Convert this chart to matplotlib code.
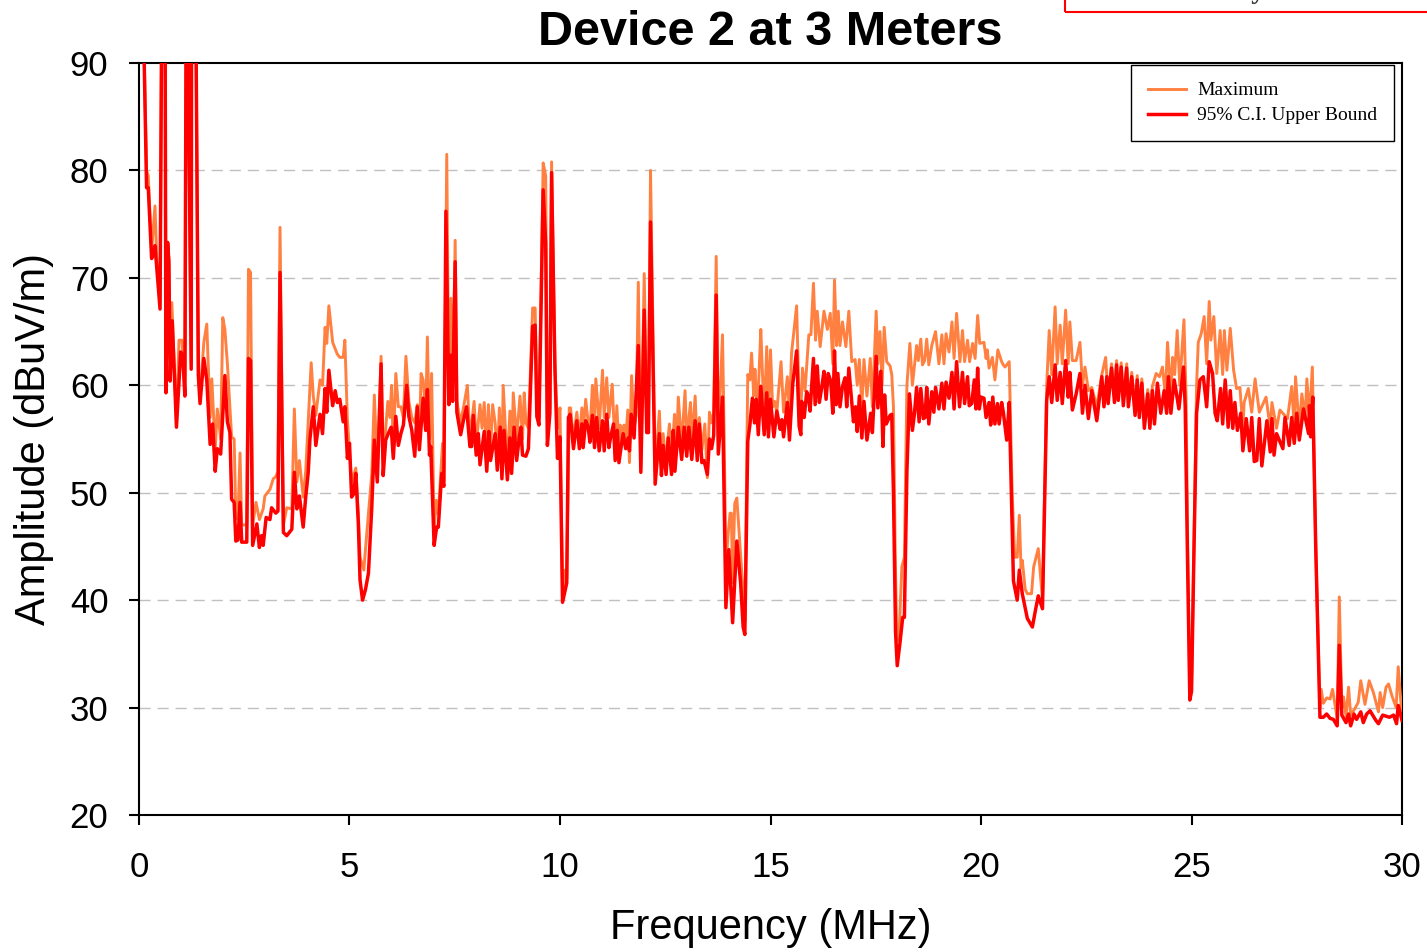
import numpy as np
import matplotlib.pyplot as plt
import matplotlib.patches as patches

# 95% C.I. upper bound (MHz, dBuV/m)
freq_ci = [
    0.10, 0.18, 0.22, 0.30, 0.34, 0.38, 0.50, 0.54, 0.62, 0.64,
    0.68, 0.71, 0.74, 0.79, 0.89, 0.99, 1.04, 1.09, 1.12, 1.16,
    1.24, 1.25, 1.35, 1.41, 1.45, 1.54, 1.61, 1.69, 1.75, 1.81,
    1.86, 1.94, 2.04, 2.10, 2.16, 2.20, 2.26, 2.30, 2.35, 2.40,
    2.44, 2.56, 2.60, 2.65, 2.70, 2.80, 2.86, 2.91, 2.95, 3.02,
    3.11, 3.15, 3.25, 3.30, 3.35, 3.43, 3.51, 3.63, 3.69, 3.75,
    3.81, 3.90, 3.96, 4.02, 4.06, 4.14, 4.20, 4.30, 4.36, 4.42,
    4.46, 4.51, 4.60, 4.66, 4.71, 4.77, 4.85, 4.89, 4.95, 5.00,
    5.05, 5.10, 5.15, 5.21, 5.25, 5.31, 5.38, 5.45, 5.53, 5.59,
    5.66, 5.75, 5.80, 5.86, 5.92, 5.99, 6.04, 6.10, 6.16, 6.22,
    6.28, 6.36, 6.41, 6.48, 6.55, 6.61, 6.66, 6.75, 6.81, 6.85,
    6.90, 6.93, 7.01, 7.07, 7.11, 7.19, 7.24, 7.29, 7.36, 7.41,
    7.45, 7.51, 7.55, 7.64, 7.71, 7.78, 7.86, 7.90, 7.94, 8.01,
    8.06, 8.10, 8.20, 8.26, 8.31, 8.35, 8.46, 8.51, 8.58, 8.62,
    8.67, 8.75, 8.81, 8.85, 8.91, 8.97, 9.03, 9.07, 9.11, 9.19,
    9.25, 9.35, 9.41, 9.45, 9.50, 9.60, 9.66, 9.70, 9.76, 9.80,
    9.88, 9.94, 10.00, 10.06, 10.16, 10.20, 10.24, 10.32, 10.40, 10.46,
    10.52, 10.55, 10.61, 10.67, 10.71, 10.77, 10.82, 10.87, 10.93, 11.01,
    11.05, 11.11, 11.16, 11.20, 11.27, 11.31, 11.36, 11.40, 11.46, 11.50,
    11.56, 11.62, 11.65, 11.69, 11.76, 11.86, 11.92, 12.00, 12.06, 12.10,
    12.15, 12.26, 12.36, 12.41, 12.45, 12.52, 12.57, 12.65, 12.69, 12.73,
    12.81, 12.89, 12.95, 13.01, 13.06, 13.13, 13.21, 13.26, 13.31, 13.37,
    13.42, 13.50, 13.55, 13.60, 13.65, 13.71, 13.76, 13.86, 13.94, 14.01,
    14.10, 14.20, 14.29, 14.35, 14.39, 14.46, 14.51, 14.57, 14.62, 14.66,
    14.71, 14.77, 14.85, 14.91, 14.95, 15.00, 15.08, 15.15, 15.23, 15.27,
    15.31, 15.40, 15.45, 15.53, 15.62, 15.68, 15.72, 15.74, 15.80, 15.86,
    15.90, 15.94, 16.02, 16.06, 16.11, 16.16, 16.22, 16.27, 16.32, 16.37,
    16.43, 16.48, 16.52, 16.56, 16.60, 16.65, 16.71, 16.77, 16.81, 16.86,
    16.93, 16.97, 17.02, 17.06, 17.11, 17.17, 17.22, 17.29, 17.38, 17.42,
    17.51, 17.55, 17.62, 17.67, 17.71, 17.75, 17.84, 17.88, 17.92, 17.97,
    18.01, 18.08, 18.14, 18.18, 18.24, 18.30, 18.37, 18.42, 18.47, 18.53,
    18.57, 18.63, 18.67, 18.71, 18.76, 18.83, 18.88, 18.92, 19.00, 19.07,
    19.12, 19.17, 19.24, 19.31, 19.36, 19.42, 19.49, 19.56, 19.61, 19.68,
    19.72, 19.78, 19.84, 19.88, 19.92, 19.96, 20.00, 20.07, 20.12, 20.19,
    20.23, 20.28, 20.33, 20.39, 20.43, 20.49, 20.53, 20.61, 20.67, 20.77,
    20.86, 20.91, 20.98, 21.10, 21.22, 21.29, 21.36, 21.46, 21.56, 21.62,
    21.68, 21.76, 21.81, 21.88, 21.93, 22.01, 22.07, 22.11, 22.17, 22.26,
    22.35, 22.41, 22.47, 22.55, 22.63, 22.75, 22.87, 22.92, 22.99, 23.02,
    23.10, 23.17, 23.22, 23.26, 23.33, 23.38, 23.46, 23.50, 23.58, 23.66,
    23.71, 23.76, 23.82, 23.88, 23.96, 24.01, 24.07, 24.12, 24.19, 24.27,
    24.35, 24.41, 24.45, 24.51, 24.59, 24.70, 24.81, 24.85, 24.90, 24.96,
    25.00, 25.06, 25.12, 25.20, 25.28, 25.36, 25.42, 25.50, 25.56, 25.61,
    25.69, 25.74, 25.80, 25.87, 25.92, 25.98, 26.03, 26.09, 26.17, 26.22,
    26.30, 26.38, 26.43, 26.49, 26.55, 26.61, 26.67, 26.79, 26.87, 26.91,
    26.96, 27.02, 27.17, 27.22, 27.32, 27.38, 27.44, 27.50, 27.56, 27.66,
    27.78, 27.80, 27.83, 27.88, 27.95, 28.05, 28.13, 28.21, 28.29, 28.37,
    28.46, 28.51, 28.57, 28.67, 28.73, 28.78, 28.86, 28.92, 29.02, 29.08,
    29.16, 29.24, 29.38, 29.44, 29.54, 29.70, 29.80, 29.87, 29.91, 30.00,
]
amp_ci = [
    95, 78.4, 78.4, 71.8, 72.2, 73.0, 67.1, 95, 95, 59.3,
    73.3, 71.5, 60.4, 66.0, 56.1, 63.1, 62.8, 59.0, 95, 95,
    61.5, 95, 95, 60.9, 58.3, 62.5, 60.5, 54.5, 56.4, 52.0,
    54.1, 53.6, 60.9, 56.6, 55.6, 49.4, 49.1, 45.5, 45.6, 49.1,
    45.4, 45.4, 62.5, 62.3, 45.1, 47.1, 44.9, 46.0, 45.1, 47.7,
    47.5, 48.6, 48.1, 48.3, 70.5, 46.3, 46.0, 46.6, 51.9, 48.5,
    49.7, 46.8, 49.6, 51.9, 55.0, 58.0, 54.4, 57.3, 55.5, 59.7,
    57.5, 61.4, 58.1, 59.5, 58.4, 58.7, 56.6, 58.0, 53.2, 54.6,
    49.6, 49.9, 51.8, 47.1, 41.9, 40.0, 41.0, 42.5, 48.7, 54.9,
    51.0, 62.0, 51.6, 54.9, 55.5, 56.1, 53.2, 57.1, 54.4, 55.5,
    56.3, 60.0, 57.1, 55.8, 53.4, 58.0, 54.0, 58.8, 55.8, 59.6,
    53.5, 54.3, 45.1, 46.8, 46.8, 51.8, 50.6, 76.2, 58.2, 62.8,
    58.5, 71.5, 57.5, 55.4, 56.8, 58.0, 54.3, 54.3, 57.2, 53.5,
    55.5, 52.6, 55.7, 52.0, 55.7, 53.0, 55.5, 52.1, 56.1, 51.3,
    55.8, 51.2, 55.1, 51.8, 56.1, 53.0, 55.1, 56.1, 53.5, 53.4,
    54.1, 65.5, 65.6, 57.1, 56.3, 78.2, 73.2, 54.4, 57.4, 79.8,
    61.4, 53.2, 55.2, 39.8, 41.6, 57.0, 57.3, 54.1, 56.7, 54.1,
    56.4, 54.2, 56.7, 56.1, 54.7, 57.2, 54.2, 57.0, 53.9, 56.7,
    53.9, 57.3, 54.2, 55.1, 56.4, 53.0, 55.8, 52.8, 54.5, 55.5,
    54.1, 55.1, 53.9, 57.3, 55.1, 63.7, 51.9, 67.0, 55.6, 55.6,
    75.2, 50.8, 55.5, 51.6, 54.4, 51.7, 55.1, 51.7, 55.8, 52.0,
    56.1, 53.1, 56.1, 53.4, 56.1, 53.1, 56.7, 53.0, 56.4, 52.8,
    53.0, 51.7, 55.0, 54.1, 55.3, 68.4, 53.6, 58.9, 39.3, 44.7,
    37.9, 45.5, 41.6, 37.5, 36.8, 54.8, 56.3, 58.8, 56.5, 58.7,
    55.4, 59.9, 55.4, 59.3, 55.2, 58.7, 55.2, 57.6, 55.9, 56.8,
    55.2, 58.4, 54.9, 60.2, 63.2, 56.2, 55.4, 58.5, 57.0, 59.4,
    59.0, 57.6, 62.5, 58.2, 61.8, 58.4, 59.9, 61.3, 58.7, 61.1,
    60.4, 57.4, 63.2, 58.2, 61.1, 58.0, 59.9, 60.7, 58.0, 61.6,
    58.4, 56.6, 58.0, 55.7, 59.0, 55.1, 58.5, 54.9, 57.4, 55.6,
    62.7, 57.9, 61.3, 54.3, 59.1, 56.4, 57.2, 57.3, 50.0, 37.0,
    33.9, 36.2, 38.4, 38.4, 52.0, 59.2, 55.8, 57.4, 59.8, 56.6,
    59.7, 56.9, 57.0, 59.8, 56.4, 59.4, 57.5, 59.8, 57.8, 60.2,
    57.8, 60.3, 58.8, 61.2, 57.8, 62.2, 58.0, 61.2, 58.3, 60.8,
    58.1, 58.3, 60.5, 57.8, 61.6, 57.8, 58.9, 58.8, 57.0, 58.4,
    56.3, 58.9, 56.4, 58.3, 56.4, 58.4, 57.5, 54.9, 58.4, 41.8,
    40.0, 42.8, 40.6, 38.3, 37.5, 39.0, 40.4, 39.2, 58.6, 60.8,
    58.4, 61.9, 58.6, 61.2, 58.3, 62.3, 58.9, 61.2, 57.7, 59.2,
    61.1, 57.4, 60.0, 56.9, 59.5, 56.7, 60.8, 58.0, 60.8, 58.3,
    61.6, 58.4, 61.9, 58.6, 61.7, 58.1, 61.6, 58.0, 60.8, 57.2,
    60.5, 57.0, 60.2, 56.0, 59.2, 56.0, 59.5, 56.4, 60.2, 57.4,
    59.5, 57.4, 60.8, 57.4, 60.5, 57.8, 61.7, 58.0, 45.0, 30.7,
    31.5, 45.0, 57.4, 60.5, 60.8, 58.0, 62.2, 61.1, 57.4, 56.7,
    59.7, 56.4, 60.5, 56.1, 59.5, 56.0, 58.4, 55.8, 57.4, 53.9,
    56.9, 53.9, 57.0, 52.9, 53.0, 56.9, 52.5, 56.7, 53.8, 56.9,
    53.5, 55.5, 54.1, 57.0, 54.4, 57.0, 54.6, 57.4, 54.9, 57.8,
    55.5, 58.1, 55.2, 58.9, 45.0, 29.1, 29.1, 29.4, 29.0, 28.9,
    28.3, 35.8, 29.3, 28.6, 29.4, 28.3, 29.4, 28.9, 29.6, 28.6,
    29.4, 29.7, 28.8, 28.5, 29.3, 29.1, 29.3, 28.5, 30.2, 28.8,
]

# Maximum
freq_max = [
    0.10, 0.18, 0.22, 0.30, 0.38, 0.42, 0.50, 0.54, 0.62, 0.64,
    0.67, 0.71, 0.74, 0.78, 0.89, 0.95, 1.02, 1.09, 1.12, 1.16,
    1.24, 1.25, 1.35, 1.41, 1.45, 1.54, 1.61, 1.69, 1.73, 1.78,
    1.81, 1.86, 1.94, 1.99, 2.04, 2.10, 2.16, 2.20, 2.26, 2.30,
    2.35, 2.40, 2.44, 2.56, 2.60, 2.65, 2.70, 2.78, 2.86, 2.95,
    2.99, 3.11, 3.19, 3.25, 3.30, 3.35, 3.43, 3.51, 3.63, 3.69,
    3.75, 3.81, 3.90, 3.96, 4.02, 4.09, 4.14, 4.20, 4.30, 4.36,
    4.42, 4.46, 4.51, 4.60, 4.71, 4.77, 4.85, 4.89, 4.95, 5.05,
    5.15, 5.21, 5.25, 5.34, 5.41, 5.53, 5.59, 5.66, 5.75, 5.80,
    5.91, 5.96, 6.00, 6.04, 6.10, 6.16, 6.22, 6.28, 6.34, 6.41,
    6.48, 6.55, 6.61, 6.66, 6.70, 6.75, 6.81, 6.85, 6.90, 6.95,
    7.01, 7.06, 7.11, 7.21, 7.24, 7.31, 7.36, 7.41, 7.45, 7.51,
    7.55, 7.64, 7.71, 7.80, 7.86, 7.96, 8.01, 8.06, 8.10, 8.15,
    8.20, 8.26, 8.30, 8.35, 8.40, 8.46, 8.51, 8.56, 8.62, 8.65,
    8.75, 8.81, 8.85, 8.89, 8.97, 9.05, 9.11, 9.15, 9.19, 9.25,
    9.35, 9.41, 9.45, 9.50, 9.60, 9.66, 9.70, 9.76, 9.80, 9.88,
    9.94, 10.00, 10.06, 10.12, 10.16, 10.22, 10.25, 10.32, 10.40, 10.46,
    10.52, 10.55, 10.61, 10.67, 10.71, 10.77, 10.82, 10.85, 10.91, 10.93,
    11.01, 11.05, 11.11, 11.16, 11.19, 11.24, 11.27, 11.31, 11.35, 11.40,
    11.43, 11.46, 11.52, 11.56, 11.61, 11.65, 11.70, 11.76, 11.81, 11.86,
    11.92, 12.00, 12.06, 12.10, 12.15, 12.26, 12.36, 12.41, 12.45, 12.52,
    12.55, 12.60, 12.65, 12.72, 12.76, 12.81, 12.89, 12.97, 13.01, 13.10,
    13.13, 13.21, 13.26, 13.31, 13.37, 13.44, 13.50, 13.55, 13.60, 13.65,
    13.71, 13.76, 13.86, 13.90, 13.94, 13.99, 14.04, 14.07, 14.10, 14.15,
    14.20, 14.26, 14.35, 14.39, 14.46, 14.51, 14.55, 14.60, 14.63, 14.69,
    14.77, 14.80, 14.85, 14.91, 14.95, 15.00, 15.05, 15.10, 15.15, 15.25,
    15.31, 15.35, 15.40, 15.45, 15.50, 15.62, 15.68, 15.72, 15.76, 15.82,
    15.91, 15.96, 16.02, 16.07, 16.11, 16.18, 16.27, 16.35, 16.42, 16.48,
    16.52, 16.57, 16.61, 16.65, 16.71, 16.79, 16.86, 16.93, 17.01, 17.06,
    17.11, 17.17, 17.22, 17.29, 17.37, 17.42, 17.51, 17.55, 17.60, 17.65,
    17.70, 17.76, 17.84, 17.88, 17.92, 17.96, 18.00, 18.05, 18.12, 18.18,
    18.24, 18.31, 18.37, 18.47, 18.51, 18.57, 18.61, 18.66, 18.71, 18.76,
    18.83, 18.92, 19.00, 19.07, 19.12, 19.17, 19.24, 19.31, 19.36, 19.42,
    19.50, 19.56, 19.61, 19.68, 19.73, 19.80, 19.86, 19.92, 19.97, 20.07,
    20.12, 20.15, 20.19, 20.27, 20.33, 20.40, 20.49, 20.53, 20.57, 20.67,
    20.74, 20.80, 20.86, 20.91, 20.95, 20.98, 21.05, 21.10, 21.20, 21.25,
    21.36, 21.46, 21.56, 21.62, 21.68, 21.76, 21.81, 21.88, 21.93, 22.01,
    22.07, 22.11, 22.17, 22.26, 22.35, 22.41, 22.47, 22.55, 22.63, 22.75,
    22.87, 22.96, 23.02, 23.10, 23.17, 23.22, 23.26, 23.33, 23.38, 23.46,
    23.50, 23.58, 23.66, 23.71, 23.76, 23.82, 23.88, 23.96, 24.01, 24.07,
    24.16, 24.24, 24.31, 24.38, 24.43, 24.51, 24.55, 24.60, 24.66, 24.72,
    24.82, 24.87, 24.91, 24.96, 25.00, 25.06, 25.12, 25.16, 25.23, 25.30,
    25.36, 25.42, 25.46, 25.53, 25.60, 25.68, 25.74, 25.78, 25.84, 25.92,
    26.00, 26.07, 26.15, 26.22, 26.25, 26.35, 26.43, 26.51, 26.61, 26.77,
    26.87, 26.91, 27.02, 27.10, 27.28, 27.38, 27.44, 27.47, 27.56, 27.62,
    27.70, 27.74, 27.80, 27.87, 27.95, 28.05, 28.08, 28.13, 28.21, 28.29,
    28.35, 28.46, 28.51, 28.57, 28.61, 28.67, 28.73, 28.78, 28.88, 28.96,
    29.02, 29.12, 29.22, 29.32, 29.44, 29.48, 29.54, 29.62, 29.68, 29.76,
    29.86, 29.91, 29.98, 30.00,
]
amp_max = [
    95, 80.0, 79.5, 72.5, 76.7, 72.0, 67.5, 95, 95, 60.0,
    73.3, 71.8, 61.0, 67.7, 56.5, 64.2, 64.2, 59.3, 95, 95,
    62.0, 95, 95, 61.0, 59.0, 64.0, 65.7, 57.0, 60.6, 56.5,
    54.0, 57.8, 55.0, 66.3, 65.2, 62.0, 58.0, 55.2, 55.0, 48.0,
    47.5, 53.7, 47.0, 47.0, 70.8, 70.5, 47.0, 49.1, 47.5, 48.5,
    49.7, 50.3, 51.3, 51.5, 52.0, 74.7, 47.0, 48.6, 48.5, 57.8,
    51.0, 53.0, 49.6, 52.0, 56.6, 62.1, 59.0, 57.2, 60.5, 60.0,
    65.4, 63.9, 67.4, 64.0, 62.9, 62.6, 62.6, 64.2, 56.8, 51.0,
    52.3, 48.0, 44.0, 42.8, 46.2, 51.8, 59.1, 52.0, 62.7, 53.0,
    58.5, 57.0, 60.0, 54.0, 61.1, 58.0, 58.0, 57.0, 62.7, 58.5,
    57.0, 56.5, 58.2, 55.0, 61.1, 60.5, 57.0, 64.5, 55.0, 61.1,
    46.5, 49.3, 48.0, 54.6, 51.0, 81.5, 59.0, 68.1, 59.0, 73.5,
    58.5, 56.5, 58.0, 60.0, 55.0, 58.5, 54.5, 56.5, 58.2, 56.0,
    58.4, 53.5, 58.2, 54.0, 58.2, 56.5, 53.0, 57.9, 52.5, 60.0,
    52.5, 57.6, 53.0, 59.3, 55.0, 59.0, 55.0, 59.3, 56.5, 56.0,
    67.2, 67.2, 58.0, 57.0, 80.7, 79.5, 55.0, 58.0, 80.8, 62.0,
    56.0, 57.9, 40.5, 42.8, 42.0, 57.9, 57.9, 55.0, 57.5, 55.0,
    57.9, 55.5, 58.7, 56.5, 55.5, 60.0, 56.0, 60.6, 57.6, 56.0,
    61.4, 57.0, 60.7, 57.0, 58.2, 60.1, 57.5, 54.0, 58.1, 54.0,
    56.3, 55.5, 56.3, 55.0, 57.7, 52.8, 60.9, 56.0, 57.2, 69.6,
    52.5, 70.4, 57.0, 57.0, 80.0, 52.0, 57.6, 52.5, 55.5, 52.5,
    54.5, 56.4, 53.0, 57.3, 53.5, 58.9, 54.5, 59.5, 55.0, 58.4,
    54.5, 59.0, 54.0, 57.0, 54.0, 56.4, 51.4, 57.5, 56.5, 57.5,
    72.0, 55.0, 64.7, 55.0, 43.1, 46.0, 48.1, 48.1, 41.6, 49.0,
    49.5, 46.0, 40.7, 38.0, 61.0, 60.5, 63.0, 59.0, 61.5, 57.5,
    65.2, 62.0, 57.0, 63.6, 57.5, 63.3, 58.0, 58.5, 57.5, 62.2,
    57.5, 58.9, 60.8, 57.5, 63.0, 67.4, 58.5, 57.5, 61.6, 59.5,
    64.7, 64.7, 69.5, 64.2, 66.9, 63.6, 66.9, 65.2, 66.7, 62.0,
    69.8, 63.7, 66.9, 63.7, 65.9, 63.6, 66.9, 62.2, 62.4, 60.0,
    62.4, 58.0, 62.4, 59.0, 62.5, 58.0, 66.9, 62.0, 65.0, 60.0,
    65.4, 62.2, 61.8, 61.0, 58.0, 45.0, 36.2, 36.5, 43.1, 44.0,
    60.0, 63.9, 60.0, 63.7, 62.3, 64.3, 61.9, 62.3, 64.3, 61.9,
    63.7, 65.0, 62.0, 64.7, 62.0, 64.8, 63.1, 65.9, 62.5, 66.7,
    62.2, 65.1, 62.2, 64.2, 62.2, 63.9, 62.5, 66.5, 63.9, 64.0,
    62.5, 63.3, 61.6, 62.6, 60.5, 63.3, 62.2, 61.9, 61.7, 62.2,
    50.0, 44.0, 44.0, 47.9, 43.0, 43.7, 41.0, 40.6, 40.6, 43.1,
    44.8, 40.0, 60.0, 65.1, 61.0, 67.3, 62.0, 65.6, 62.0, 67.0,
    62.0, 65.9, 62.3, 62.3, 64.0, 60.0, 61.7, 59.5, 59.8, 58.0,
    61.0, 62.6, 58.8, 62.0, 58.9, 62.3, 59.1, 62.1, 58.6, 62.0,
    58.5, 61.2, 57.7, 60.9, 57.5, 60.6, 56.5, 59.6, 56.5, 59.9,
    61.1, 60.8, 61.7, 59.0, 64.0, 59.0, 62.6, 61.0, 65.1, 60.0,
    66.1, 59.0, 45.0, 31.0, 31.8, 46.0, 60.0, 64.0, 64.8, 66.4,
    62.0, 67.8, 64.2, 66.4, 61.1, 65.1, 61.0, 65.1, 61.4, 65.3,
    61.4, 59.7, 59.8, 56.0, 58.4, 59.7, 57.5, 60.6, 57.5, 58.9,
    56.0, 58.4, 56.0, 57.7, 56.9, 59.9, 56.0, 60.8, 56.0, 59.2,
    57.0, 60.6, 57.0, 61.7, 45.0, 30.0, 31.7, 30.4, 30.9, 30.8,
    31.7, 29.0, 40.3, 30.0, 31.0, 29.2, 31.9, 29.3, 29.9, 30.5,
    32.5, 30.3, 32.5, 31.4, 29.6, 31.4, 30.0, 31.9, 32.2, 31.1,
    30.0, 33.8, 30.1, 29.7,
]
assert len(freq_ci) == len(amp_ci)
assert len(freq_max) == len(amp_max)

plt.rcParams['font.family'] = ['Liberation Sans', 'DejaVu Sans']

fig = plt.figure(figsize=(14.27, 9.52), dpi=100)
ax = fig.add_axes([0.0974, 0.1439, 0.8851, 0.7899])

ax.plot(freq_max, amp_max, color='#ff8040', lw=2.1, label='Maximum', zorder=3)
ax.plot(freq_ci, amp_ci, color='#ff0000', lw=2.5, label='95% C.I. Upper Bound', zorder=4)

ax.set_xlim(0, 30)
ax.set_ylim(20, 90)
ax.set_xticks(np.arange(0, 31, 5))
ax.set_yticks(np.arange(20, 91, 10))
for yv in range(30, 90, 10):
    ax.axhline(yv, color='#c0c0c0', lw=1.0, linestyle=(0, (8, 5)), zorder=1)

for s in ax.spines.values():
    s.set_linewidth(1.5)
ax.tick_params(direction='out', length=7, width=1.5, labelsize=25)
ax.tick_params(axis='x', pad=19)
ax.tick_params(axis='y', pad=15)

ax.set_xlabel('Frequency (MHz)', fontsize=30, labelpad=17)
ax.set_ylabel('Amplitude (dBuV/m)', fontsize=30, labelpad=11)
ax.set_title('Device 2 at 3 Meters', fontsize=35, fontweight='bold', pad=13)

leg = ax.legend(loc='upper right', bbox_to_anchor=(0.9937, 0.997), fancybox=False,
                frameon=True, edgecolor='black', framealpha=1,
                prop={'family': 'Liberation Serif', 'size': 14},
                handlelength=1.95, handletextpad=0.6, labelspacing=0.38,
                borderpad=0.85, borderaxespad=0)
leg.get_frame().set_linewidth(1.0)

# red note box cut off at the top right of the page
fig.patches.append(patches.Rectangle((1065 / 1427, 1 - 12 / 952), 0.5, 0.5,
                                     transform=fig.transFigure, fill=False,
                                     edgecolor='red', lw=1.5))
fig.text(1266 / 1427, 1.002, 'Preliminary', ha='right', va='baseline',
         fontsize=20, fontweight='bold', color='#333333', family='Liberation Serif')

fig.savefig('out.png', dpi=100)
